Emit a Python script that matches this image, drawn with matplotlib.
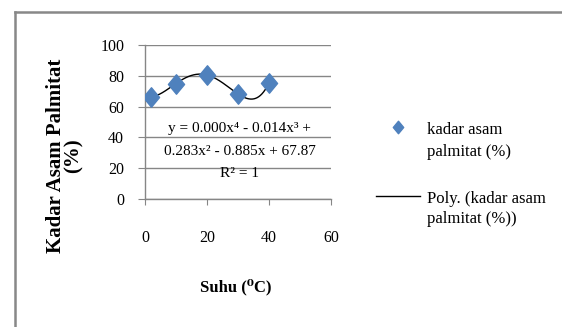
import matplotlib
matplotlib.use("Agg")
import matplotlib.pyplot as plt
import numpy as np
from matplotlib.lines import Line2D
from matplotlib.path import Path

plt.rcParams['font.family'] = ['Liberation Serif', 'DejaVu Serif']

suhu = [2, 10, 20, 30, 40]
kadar = [66.5, 75.0, 80.5, 68.2, 75.5]
x_ticks = [0, 20, 40, 60]
y_ticks = [0, 20, 40, 60, 80, 100]
series_label = "kadar asam\npalmitat (%)"
trend_label = "Poly. (kadar asam\npalmitat (%))"
equation = "y = 0.000x⁴ - 0.014x³ +\n0.283x² - 0.885x + 67.87\nR² = 1"

blue = '#4F81BD'
grid_c = '#868686'

fig = plt.figure(figsize=(5.62, 3.27), dpi=100)
ax = fig.add_axes([145/562, 1-199/327, (331-145)/562, (199-45)/327])

diamond = Path([(0, 1), (0.83, 0), (0, -1), (-0.83, 0), (0, 1)],
               [Path.MOVETO, Path.LINETO, Path.LINETO, Path.LINETO, Path.CLOSEPOLY])

coef = np.polyfit(suhu, kadar, 4)
xs = np.linspace(min(suhu), max(suhu), 300)
ax.plot(xs, np.polyval(coef, xs), color='black', lw=1.0, zorder=3)
ax.plot(suhu, kadar, linestyle='none', marker=diamond, markersize=14,
        color=blue, markeredgecolor=blue, zorder=4)

ax.set_xlim(0, 60)
ax.set_ylim(0, 100)
ax.set_xticks(x_ticks)
ax.set_yticks(y_ticks)
ax.yaxis.grid(True, color=grid_c, lw=1.0)
ax.set_axisbelow(True)
for s in ['top', 'right']:
    ax.spines[s].set_visible(False)
for s in ['left', 'bottom']:
    ax.spines[s].set_color(grid_c)
    ax.spines[s].set_linewidth(1.0)
ax.tick_params(axis='y', direction='out', length=5, color=grid_c, pad=10, labelsize=11.5)
ax.tick_params(axis='x', direction='out', length=4, color=grid_c, pad=18, labelsize=11.5)

ax.text(30.5, 31, equation, ha='center', va='center', fontsize=11, linespacing=1.95, zorder=5)

fig.text(236/562, 1-287/327, "Suhu (⁰C)", ha='center', va='center',
         fontsize=12, fontweight='bold')
fig.text(65/562, 1-156/327, "Kadar Asam Palmitat\n(%)", ha='center', va='center',
         rotation=90, fontsize=15, fontweight='bold', linespacing=0.85)

# legend
fig.add_artist(Line2D([398/562], [1-127/327], marker=diamond, markersize=9,
                      color=blue, linestyle='none', transform=fig.transFigure))
fig.text(427/562, 1-141/327, series_label, ha='left', va='center', fontsize=12, linespacing=1.55)
fig.add_artist(Line2D([376/562, 420/562], [1-196/327, 1-196/327], color='black', lw=1.0,
                      transform=fig.transFigure))
fig.text(427/562, 1-209/327, trend_label, ha='left', va='center', fontsize=12, linespacing=1.4)

# outer border
fig.add_artist(Line2D([15/562, 1.0], [1-12/327, 1-12/327], color='#888888', lw=1.8,
                      transform=fig.transFigure))
fig.add_artist(Line2D([15/562, 15/562], [1-12/327, 0], color='#888888', lw=1.8,
                      transform=fig.transFigure))

fig.savefig('out.png', dpi=100)
